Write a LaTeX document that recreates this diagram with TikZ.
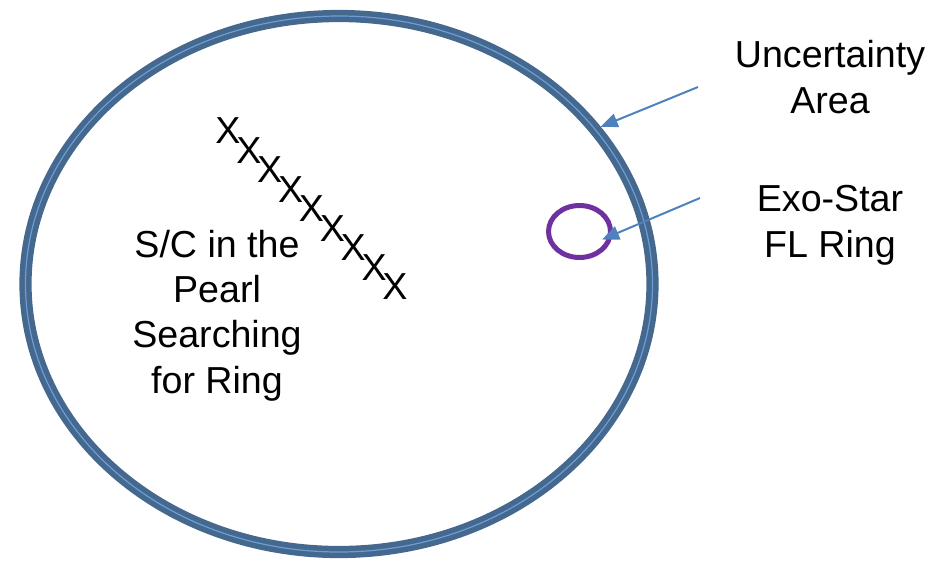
\documentclass[tikz,border=0pt]{standalone}
\usepackage{fontspec}
\setmainfont{Liberation Sans}
\usepackage{tikz}
\usetikzlibrary{arrows.meta, shapes.geometric}
\definecolor{Rim}{HTML}{44688E}
\definecolor{RimLight}{HTML}{6C9DD6}
\definecolor{Pointer}{HTML}{4F81BD}
\definecolor{RingPurple}{HTML}{7030A0}

\begin{document}
\begin{tikzpicture}[
      x=1pt, y=-1pt,
      font=\fontsize{37.6}{45.3}\selectfont,
      uncertain/.style={
        ellipse, draw=Rim, line width=5.5pt, double=RimLight, double distance=1.2pt,
        inner sep=0pt, outer sep=6pt, minimum width=627pt, minimum height=536pt
      },
      flring/.style={
        ellipse, draw=RingPurple, line width=5pt,
        inner sep=0pt, minimum width=62pt, minimum height=52pt
      },
      lbl/.style={align=center, inner sep=0pt, anchor=base},
      xmark/.style={inner sep=0pt},
      arr/.style={-{Triangle[length=17pt,width=14pt]}, line width=2pt, Pointer}
    ]
      \useasboundingbox (0,0) rectangle (942,560);
      \node[uncertain] (pearl) at (339,284) {};
      \node[flring] (ring) at (579.5,231.5) {};
      \node[lbl] (unc) at (830,113) {Uncertainty\\Area};
      \node[lbl] (exo) at (830,257) {Exo-Star\\FL Ring};
      \node[lbl] (sc) at (217,393) {S/C in the\\Pearl\\Searching\\for Ring};
      \foreach \i in {0,...,8}{\node[xmark] (x\i) at (228+20.875*\i, 131+19.5*\i) {X};}
      \coordinate (uncfoot) at (698,87);
      \coordinate (exofoot) at (700,198);
      \draw[arr] (uncfoot) -- (pearl.31);
      \draw[arr, shorten >=-11.6pt] (exofoot) -- (ring.-6.7);
    \end{tikzpicture}
\end{document}
